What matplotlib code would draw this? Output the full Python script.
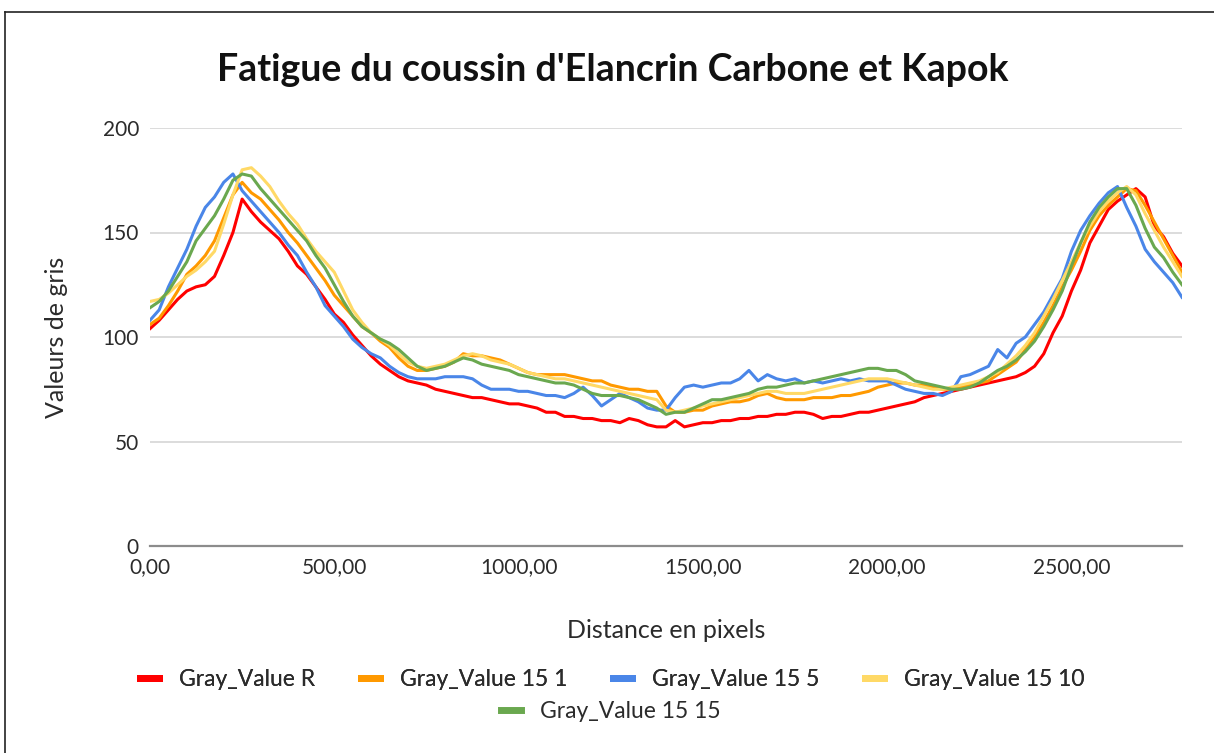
import matplotlib
matplotlib.use("Agg")
import matplotlib.pyplot as plt
import numpy as np
from matplotlib.lines import Line2D
from matplotlib.ticker import FuncFormatter

plt.rcParams["font.family"] = ["Lato", "DejaVu Sans"]

# distance sampling (pixels), one value every 25 px
distance = np.arange(0, 2801, 25)

gray_r = [
    104, 108, 113, 118, 122, 124, 125, 129, 139, 150,
    166, 160, 155, 151, 147, 141, 134, 130, 124, 118,
    111, 107, 101, 96, 91, 87, 84, 81, 79, 78,
    77, 75, 74, 73, 72, 71, 71, 70, 69, 68,
    68, 67, 66, 64, 64, 62, 62, 61, 61, 60,
    60, 59, 61, 60, 58, 57, 57, 60, 57, 58,
    59, 59, 60, 60, 61, 61, 62, 62, 63, 63,
    64, 64, 63, 61, 62, 62, 63, 64, 64, 65,
    66, 67, 68, 69, 71, 72, 73, 74, 75, 76,
    77, 78, 79, 80, 81, 83, 86, 92, 102, 110,
    122, 132, 145, 153, 161, 165, 168, 171, 167, 153,
    148, 140, 134,
]
gray_15_1 = [
    106, 109, 115, 122, 130, 134, 139, 146, 157, 168,
    174, 169, 166, 161, 156, 150, 145, 139, 133, 127,
    120, 115, 110, 105, 102, 98, 95, 90, 86, 84,
    84, 85, 86, 88, 92, 91, 91, 90, 89, 87,
    85, 83, 82, 82, 82, 82, 81, 80, 79, 79,
    77, 76, 75, 75, 74, 74, 67, 64, 64, 65,
    65, 67, 68, 69, 69, 70, 72, 73, 71, 70,
    70, 70, 71, 71, 71, 72, 72, 73, 74, 76,
    77, 78, 78, 77, 77, 76, 75, 75, 76, 77,
    78, 79, 82, 85, 88, 94, 100, 107, 115, 124,
    132, 141, 151, 158, 163, 167, 171, 170, 163, 155,
    147, 139, 131,
]
gray_15_5 = [
    108, 113, 124, 133, 142, 153, 162, 167, 174, 178,
    170, 165, 160, 155, 150, 144, 139, 131, 124, 115,
    110, 105, 99, 95, 92, 90, 86, 83, 81, 80,
    80, 80, 81, 81, 81, 80, 77, 75, 75, 75,
    74, 74, 73, 72, 72, 71, 73, 76, 72, 67,
    70, 73, 71, 69, 66, 65, 65, 71, 76, 77,
    76, 77, 78, 78, 80, 84, 79, 82, 80, 79,
    80, 78, 79, 78, 79, 80, 79, 80, 79, 79,
    79, 77, 75, 74, 73, 73, 72, 74, 81, 82,
    84, 86, 94, 90, 97, 100, 106, 112, 120, 128,
    141, 151, 158, 164, 169, 172, 162, 153, 142, 136,
    131, 126, 119,
]
gray_15_10 = [
    117, 118, 121, 125, 129, 132, 136, 141, 154, 168,
    180, 181, 177, 172, 165, 159, 154, 147, 141, 136,
    131, 122, 113, 107, 102, 99, 96, 92, 88, 86,
    85, 86, 87, 89, 91, 92, 91, 89, 88, 87,
    85, 83, 82, 81, 80, 80, 79, 78, 77, 76,
    75, 74, 73, 72, 71, 70, 65, 64, 65, 66,
    67, 68, 69, 70, 71, 72, 73, 74, 74, 73,
    73, 73, 74, 75, 76, 77, 78, 79, 80, 80,
    80, 79, 78, 77, 76, 75, 75, 76, 77, 78,
    79, 81, 83, 87, 91, 96, 102, 110, 118, 127,
    136, 145, 153, 160, 165, 169, 172, 168, 159, 151,
    143, 136, 129,
]
gray_15_15 = [
    114, 117, 122, 129, 136, 146, 152, 158, 166, 175,
    178, 177, 171, 166, 161, 156, 151, 146, 139, 133,
    125, 117, 110, 105, 102, 99, 97, 94, 90, 86,
    84, 85, 86, 88, 90, 89, 87, 86, 85, 84,
    82, 81, 80, 79, 78, 78, 77, 75, 73, 72,
    72, 72, 71, 70, 68, 66, 63, 64, 64, 66,
    68, 70, 70, 71, 72, 73, 75, 76, 76, 77,
    78, 78, 79, 80, 81, 82, 83, 84, 85, 85,
    84, 84, 82, 79, 78, 77, 76, 75, 75, 76,
    78, 81, 84, 86, 89, 93, 98, 105, 113, 122,
    134, 145, 155, 162, 167, 171, 171, 163, 152, 143,
    138, 131, 125,
]

series_names = ["Gray_Value R", "Gray_Value 15 1", "Gray_Value 15 5",
                "Gray_Value 15 10", "Gray_Value 15 15"]
series_values = [gray_r, gray_15_1, gray_15_5, gray_15_10, gray_15_15]
colors = ["#ff0000", "#ff9900", "#4a86e8", "#ffd966", "#6aa84f"]

x_ticks = [0, 500, 1000, 1500, 2000, 2500]
y_ticks = [0, 50, 100, 150, 200]

W, H = 1214, 753
fig = plt.figure(figsize=(W / 100, H / 100), dpi=100)
ax = fig.add_axes([150 / W, 1 - 546 / H, (1182 - 150) / W, (546 - 128) / H])

for name, vals, col in zip(series_names, series_values, colors):
    ax.plot(distance, vals, color=col, lw=2.2, label=name, solid_joinstyle="round")

ax.set_xlim(0, 2800)
ax.set_ylim(0, 200)
ax.set_xticks(x_ticks)
ax.set_yticks(y_ticks)
ax.xaxis.set_major_formatter(FuncFormatter(lambda v, p: f"{v:.2f}".replace(".", ",")))
ax.grid(axis="y", color="#d9d9d9", lw=1.3)
ax.set_axisbelow(True)
for s in ["top", "right", "left"]:
    ax.spines[s].set_visible(False)
ax.spines["bottom"].set_color("#8c8c8c")
ax.spines["bottom"].set_linewidth(1.6)
ax.tick_params(length=0, labelsize=15, colors="#2b2b2b")
ax.tick_params(axis="x", pad=8)
ax.tick_params(axis="y", pad=8)

ax.set_xlabel("Distance en pixels", fontsize=18, color="#2b2b2b")
ax.xaxis.set_label_coords(0.5, (546 - 630) / 418)
ax.xaxis.label.set_va("center")
ax.set_ylabel("Valeurs de gris", fontsize=18, color="#2b2b2b")
ax.yaxis.set_label_coords((57 - 150) / 1032, 0.5)
ax.yaxis.label.set_va("center")

fig.text(613 / W, 1 - 70 / H, "Fatigue du coussin d'Elancrin Carbone et Kapok",
         ha="center", va="center", fontsize=27, fontweight="bold", color="#111111")

handles = [Line2D([], [], color=c, lw=5) for c in colors]
leg_kw = dict(loc="center", frameon=False, fontsize=16.5, handlelength=0.85,
              handletextpad=0.85, labelcolor="#2b2b2b")
leg1 = fig.legend(handles[:4], series_names[:4], ncol=4, columnspacing=2.0,
                  bbox_to_anchor=(612 / W, 1 - 680 / H), **leg_kw)
fig.legend(handles[4:], series_names[4:],
           bbox_to_anchor=(611 / W, 1 - 712 / H), **leg_kw)
fig.add_artist(leg1)

# outer frame (top and left edges visible in the reference)
fig.add_artist(Line2D([5 / W, 1], [1 - 12 / H] * 2, color="#222222", lw=1.2))
fig.add_artist(Line2D([5 / W] * 2, [0, 1 - 12 / H], color="#222222", lw=1.2))

fig.savefig("out.png", dpi=100)
